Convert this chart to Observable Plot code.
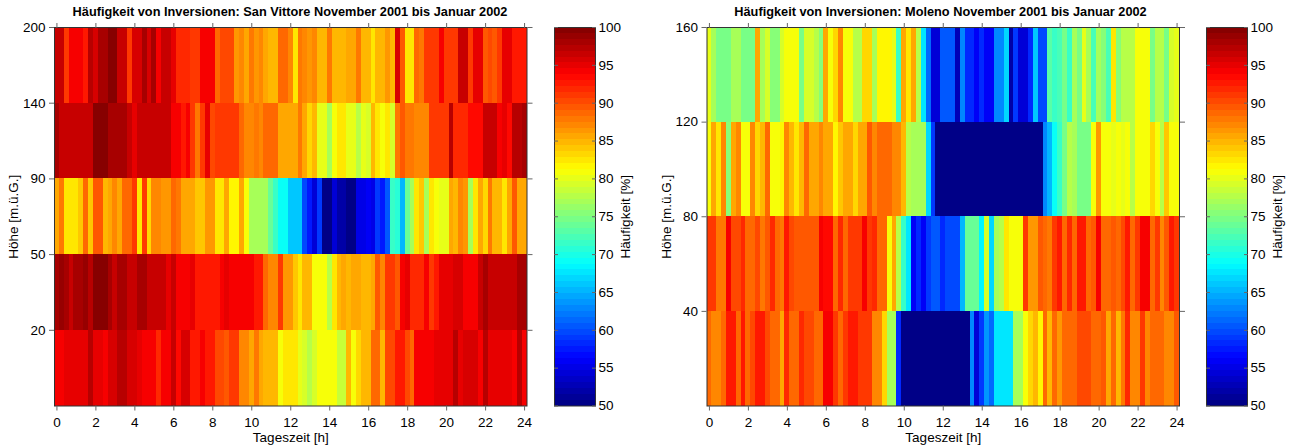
<!DOCTYPE html>
<html><head><meta charset="utf-8">
<script src="https://cdn.jsdelivr.net/npm/d3@7"></script>
<script src="https://cdn.jsdelivr.net/npm/@observablehq/plot@0.6"></script>
<style>
html,body{margin:0;padding:0;background:#fff}
#root{position:relative;width:1297px;height:448px;overflow:hidden;font-family:"Liberation Sans",Arial,sans-serif}
#root>svg,#root>div.p{position:absolute}
.t{position:absolute;top:4px;font:bold 12.75px "Liberation Sans",Arial,sans-serif;color:#000;text-align:center;white-space:nowrap;transform:translateX(-50%)}
</style></head><body><div id="root"></div>
<script>
const hours = d3.range(97).map(i => i * 0.25);
const xTicks = [0,2,4,6,8,10,12,14,16,18,20,22,24];
const colorTicks = [50,55,60,65,70,75,80,85,90,95,100];
const titleSV = "Häufigkeit von Inversionen: San Vittore November 2001 bis Januar 2002";
const titleMO = "Häufigkeit von Inversionen: Moleno November 2001 bis Januar 2002";
const labelsSV = [200,140,90,50,20];
const labelsMO = [160,120,80,40];

const sv200 = [96.2,96.2,90.8,93.8,93.8,93.8,92.3,97.4,96,97.7,
97.7,99.4,99.4,96.2,96.2,90.8,96,96,97.9,96,
97.9,94.5,96.2,96.2,95.2,92,92,92,91.3,91.3,
93.8,93.8,93.8,88.9,90.5,90.5,90.5,86.4,87.4,85.7,
87.9,86.4,87.4,85.7,84.4,84.4,88.9,88.4,87.1,82.7,
87.9,87.4,86.4,86.9,84.4,84.4,87.6,84.4,84.4,84.4,
85.4,85.4,87.6,84.4,84.4,82.7,84.4,84.4,86.6,84.4,
95.7,89.3,82.5,82.5,88.9,87.9,90.8,90.8,90.8,93.8,
91.3,91.3,91.3,96.2,96.2,90.8,95,95,89.3,90.3,
89.3,91.3,95.2,95.2,92.3,92.3,92.8];
const sv140 = [97.9,96.2,96.2,96.2,96.7,96.7,96.7,96.2,99.4,99.4,
99.4,97.9,97.9,97.9,97.9,96.2,95.2,96.2,96.2,96.2,
96.2,96.2,96.2,96.2,93.8,93.8,92.3,93.8,90.8,87.9,
90.8,95.2,90.3,91.3,91.3,91.3,91.3,91.3,88.4,87.4,
87.4,87.9,87.1,88.4,88.4,88.4,85.7,85.7,85.7,85.7,
87.9,85.7,83.4,84.4,80,80,77,80.5,82.7,82.7,
80.2,80,77.6,80,79,84.4,82.5,80.5,82.7,79.5,
87.9,89.3,88.1,88.1,87.1,87.1,87.1,91.3,91.3,91.3,
91.3,97,91.8,91.8,91.8,93.4,93.4,93.4,96.2,96.2,
96.2,94.5,95.2,93.3,97,97,98.4];
const sv90 = [85.2,87.6,82.5,82.5,82.5,84.2,88.9,84.2,89.3,89.3,
84.4,85.7,87.1,85.9,88.9,88.9,90.8,82.2,90.8,83.5,
87.1,87.1,86.4,86.4,88.4,87.9,85.7,85.7,85.7,83.7,
83.7,86.4,86.4,82.2,82.2,85.7,82,82,85.7,80.5,
76.8,76.8,76.8,76.8,74.1,71.7,69,69,65.9,65.9,
65.9,60.1,57.3,54.2,59.2,50.3,50.3,54,52,52,
50.3,50.3,55.3,55.3,56.2,54.8,59.2,57.7,60.7,71.2,
70.7,65,74.1,76.8,82.2,84.2,76.8,82.2,80.5,79.8,
79.8,85.7,84.4,87.4,86.4,77,82.7,85.7,83.5,87.9,
84.4,84.4,82.2,85.7,89.6,85.2,85.7];
const sv50 = [98.2,99.2,97.7,96.7,97.7,97.7,98.9,97.2,99.4,99.4,
99.4,97.7,96.2,97.7,97.7,96.2,96.2,97.9,97.9,96.2,
96.2,96.2,96.2,95.2,96.2,93.8,93.8,93.8,94.7,92.3,
92.3,92.3,92.3,92.3,93.8,94.7,93.8,93.8,93.8,93.8,
93.8,92.3,92.3,88.4,87.4,87.4,91.3,86.4,86.4,83.9,
82.7,84.4,84.4,80.5,80.5,80.5,78,82.7,84.9,85.7,
84.4,85.9,85.9,84.4,84.4,85.7,89.6,87.1,90.8,90.8,
89.6,93.8,94.7,91.5,91.5,91.5,94.5,91.3,92.8,95,
95,95,95.7,95.7,93.8,93.8,93.8,96.2,97.7,96.2,
96.2,96.2,96.2,96.7,96.2,97.9,97.9];
const sv20 = [93.8,93.8,95,95,94.7,95.2,94.7,97,95.2,95.2,
93.8,95.7,95.7,97,97,96,96,95.2,93.8,93.8,
93.8,91.8,93.8,93.8,96.7,93.3,95.5,95.5,92.3,92.3,
93.8,92.3,92.3,90.3,90.3,89.3,91.3,91.3,87.4,87.4,
85.7,87.9,85.7,84.4,84.4,84.4,81.2,82.5,82.5,82.7,
79.8,79,77.6,79.3,80.5,80.5,81.2,81.2,78.5,78.5,
84.4,80.5,83.5,84.9,84.9,88.9,88.9,84.4,90.3,90.3,
92.3,92.3,90.3,88.4,93.8,93.8,94,94,94.7,94.7,
94.7,94.7,97,95.2,95.7,95.7,95.7,93.8,97,95.2,
95.2,95.2,95.2,95.2,93.8,97,93.8];

const mo160 = [80,76.8,74.4,74.4,74.4,76.8,76.8,74.9,74.9,74.9,
85.4,76.8,79.3,75.4,75.4,79.3,81.2,81.2,80.5,74.9,
79.3,79.3,78,75.1,85.4,80.5,83,87.4,81.2,81.2,
78,78,83.2,83.2,76.8,81.5,81.5,81.5,79.8,71.7,
85.4,82.7,85.4,77.6,67.5,61.2,54.5,54.5,60.2,60.2,
60.2,52.6,62.6,58.2,58.2,56.2,58,55.6,55.6,62.6,
62.6,67,52,59,54.5,54.5,58,66,59.7,59.7,
73,71.2,72.2,74.6,71.2,76.8,74.9,80,76.8,72.6,
76.8,75.4,72.2,82.7,75.4,78,78,78,80.5,80.5,
80.5,74.6,78,78,74.6,79.3,80];
const mo120 = [81.2,85.4,82.2,87.4,75.6,85.4,87.4,81.2,81.2,87.4,
83.2,84.4,88.9,81.2,81.2,82,87.4,84.4,82.7,84.4,
88.9,85.4,85.4,87.4,85.4,85.4,82,83.9,85.4,85.4,
83.5,85.4,85.4,89.3,87.4,88.9,88.9,88.9,86.9,86.9,
84.4,77.6,76.8,76.8,76.8,67,59.2,50,50,50,
50,50,50,50,50,50,50,50,50,50,
50,50,50,50,50,50,50,50,50,62.6,
65,68.8,71.7,74.6,78,76.8,74.6,74.6,74.6,80.5,
86.4,81.2,81.2,79.8,80.5,79.8,81.2,78,80.5,80.5,
80.5,83,80.5,78,83.9,80.5,80.5];
const mo80 = [90.8,90.8,87.9,87.9,94.2,90.3,90.3,91.8,88.9,88.9,
90.3,87.9,89.3,91.8,88.9,87.9,92.3,90.3,89.3,89.3,
89.3,89.8,89.8,94.5,93.3,93.3,88.9,91.8,88.9,91.3,
91.3,91.3,94.5,90.8,91.8,88.9,88.9,81.2,85.4,78,
71.2,67.6,55.5,58,56,59.2,60.2,60.2,58.2,59.7,
59.7,59.7,65,73.7,73.7,73.7,68,79.3,66.5,76.8,
78,82.7,80.5,81.2,80.5,90.8,86.4,86.4,89.8,88.9,
87.9,90.8,92.3,88.9,91.8,88.9,92.8,92.8,88.9,89.3,
94,88.4,88.4,89.8,88.9,90.3,92.8,88.9,90.8,93.8,
93.8,88.9,90.8,87.4,89.3,92.8,90.8];
const mo40 = [88.9,86.9,86.9,88.9,92.8,92.8,88.9,92.3,88.9,90.3,
92.3,92.3,90.3,88.9,88.9,85.4,91.8,88.9,88.9,91.8,
90.3,90.3,88.9,88.4,94,94,90.8,88.9,90.8,92.8,
92.8,90.8,90.8,90.8,86.9,86.9,83,76.8,76.8,58,
50,50,50,50,50,50,50,50,50,50,
50,50,50,50,62.6,54,59,63.6,61,67.9,
67.9,67.9,67.9,76.8,76.8,81.2,83.2,84.4,82,88.9,
84.9,88.9,86.4,88.9,88.9,88.9,90.3,90.3,90.3,88.4,
88.4,89.8,85.4,88.4,84.9,87.9,91.8,87.4,87.4,91.3,
86.9,88.4,88.4,88.9,86.9,86.9,89.3];

// Jet palette in 64 flat steps
function jet(t){
  const i = Math.max(0, Math.min(63, Math.floor(t * 64)));
  const u = (i + 0.5) / 64;
  const c = v => Math.round(255 * Math.max(0, Math.min(1, v)));
  return `rgb(${c(Math.min(4*u-1.5,-4*u+4.5))},${c(Math.min(4*u-0.5,-4*u+3.5))},${c(Math.min(4*u+0.5,-4*u+2.5))})`;
}
const colorScale = {type:"linear", domain:[50,100], interpolate:jet};
const font = '"Liberation Sans",Arial,sans-serif';
const tickGrey = "#666";
const root = document.getElementById("root");

function place(svg, left){ svg.style.left = left + "px"; svg.style.top = "0px"; svg.style.background = "none"; root.appendChild(svg); }

function heatmap(rows, labels, width, ml){
  const n = rows.length;
  const cells = rows.flatMap((vals, r) => vals.map((v, c) => ({h: hours[c], r, v})));
  const ticks = d3.range(n);
  return Plot.plot({
    width, height:448, marginLeft:ml, marginRight:width-ml-472.5, marginTop:27, marginBottom:42.5,
    style:{fontFamily:font, background:"none", overflow:"visible"},
    x:{domain:[-0.125,24.125]}, y:{domain:[n,0]}, color:colorScale,
    marks:[
      Plot.rect(cells,{x1:d=>d.h-0.125,x2:d=>d.h+0.125,y1:"r",y2:d=>d.r+1,fill:"v",inset:0,shapeRendering:"crispEdges"}),
      Plot.frame({stroke:"#333",strokeWidth:1}),
      Plot.axisX({anchor:"bottom",ticks:xTicks,tickSize:5,tickPadding:6,fontSize:13.5,stroke:tickGrey,color:"#000",
        label:"Tageszeit [h]",labelAnchor:"center",labelArrow:"none",labelOffset:36,tickFormat:d=>d}),
      Plot.axisX({anchor:"top",ticks:xTicks,tickSize:5,stroke:tickGrey,tickFormat:()=>"",label:null}),
      Plot.axisY({anchor:"left",ticks,tickSize:5,tickPadding:4,fontSize:13.5,stroke:tickGrey,color:"#000",
        tickFormat:i=>labels[i],label:"Höhe [m.ü.G.]",labelAnchor:"center",labelArrow:"none",labelOffset:46}),
      Plot.axisY({anchor:"right",ticks,tickSize:5,stroke:tickGrey,tickFormat:()=>"",label:null})
    ]
  });
}

function colorbar(){
  const levels = d3.range(64).map(i => 50 + i * 50 / 64);
  return Plot.plot({
    width:90, height:448, marginLeft:2, marginRight:47, marginTop:27, marginBottom:42.5,
    style:{fontFamily:font, background:"none", overflow:"visible"},
    x:{domain:[0,1],axis:null}, y:{domain:[50,100]}, color:colorScale,
    marks:[
      Plot.rect(levels,{x1:0,x2:1,y1:d=>d,y2:d=>d+50/64,fill:d=>d+25/64,shapeRendering:"crispEdges"}),
      Plot.frame({stroke:"#333",strokeWidth:1}),
      Plot.axisY({anchor:"left",ticks:colorTicks,tickSize:-4,stroke:tickGrey,tickFormat:()=>"",label:null}),
      Plot.axisY({anchor:"right",ticks:colorTicks,tickSize:-4,tickPadding:7,fontSize:13.5,stroke:tickGrey,color:"#000",
        tickFormat:d=>d,label:"Häufigkeit [%]",labelAnchor:"center",labelArrow:"none",labelOffset:34})
    ]
  });
}

function title(text, cx){ const d=document.createElement("div"); d.className="t"; d.textContent=text; d.style.left=cx+"px"; root.appendChild(d); }

place(heatmap([sv200,sv140,sv90,sv50,sv20], labelsSV, 540, 54), 0);
place(colorbar(), 552);
place(heatmap([mo160,mo120,mo80,mo40], labelsMO, 540, 54.5), 652);
place(colorbar(), 1204);
title(titleSV, 290); title(titleMO, 940.5);
</script></body></html>
